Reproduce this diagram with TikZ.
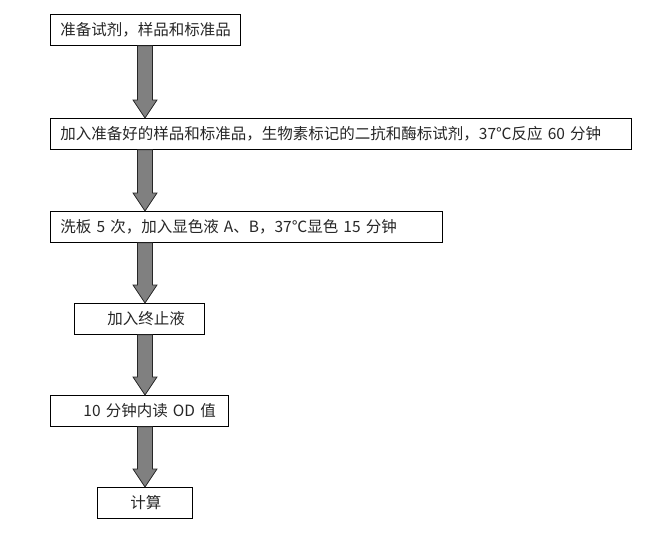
\documentclass[tikz,border=0pt]{standalone}
\usepackage{fontspec}
\setmainfont{Noto Sans CJK SC}
\usetikzlibrary{calc}
\begin{document}
\begin{tikzpicture}[x=1pt, y=-1pt, line join=miter, font=\fontsize{15.5}{18}\selectfont,
	stepbox/.style={draw=black, line width=0.8pt, anchor=north west, minimum height=31pt, inner xsep=10pt, inner ysep=0pt, align=left, text=black!85},
	flow/.style={draw=black!85, fill=black!50, line width=0.8pt}]
				\def\ax{145pt}
				\def\flowarrow#1#2{\draw[flow] let \p1=(#1.south), \p2=(#2.north) in (\ax-7.5pt,\y1)--(\ax+7.5pt,\y1)--(\ax+7.5pt,\y2+18pt)--(\ax+12pt,\y2+18pt)--(\ax,\y2)--(\ax-12pt,\y2+18pt)--(\ax-7.5pt,\y2+18pt)--cycle;}
				\useasboundingbox (0,0) rectangle (650,539);
				\node[stepbox, text width=170pt] (prep) at (50,14) {准备试剂，样品和标准品};
				\node[stepbox, text width=561pt] (react) at (50,118) {加入准备好的样品和标准品，生物素标记的二抗和酶标试剂，37℃反应 60 分钟};
				\node[stepbox, text width=372pt] (color) at (50,211) {洗板 5 次，加入显色液 A、B，37℃显色 15 分钟};
				\node[stepbox, text width=110pt] (stop) at (74,303) {\hspace*{23pt}加入终止液};
				\node[stepbox, text width=158pt] (read) at (50,395) {\hspace*{23pt}10 分钟内读 OD 值};
				\node[stepbox, text width=75pt] (calc) at (97,487) {\hspace*{23pt}计算};
				\flowarrow{prep}{react}
				\flowarrow{react}{color}
				\flowarrow{color}{stop}
				\flowarrow{stop}{read}
				\flowarrow{read}{calc}
\end{tikzpicture}
\end{document}
